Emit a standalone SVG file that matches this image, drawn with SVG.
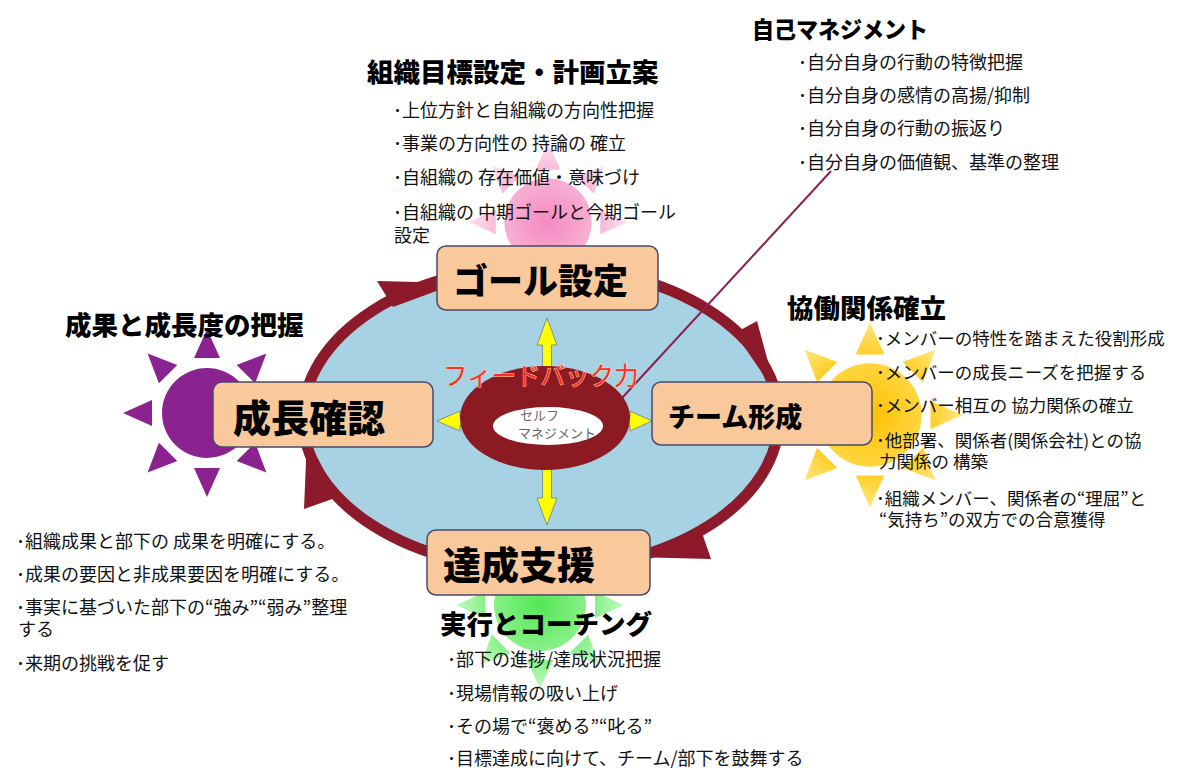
<svg xmlns="http://www.w3.org/2000/svg" width="1181" height="771" viewBox="0 0 1181 771">
<defs>
<style>
.t{font-family:"Noto Sans CJK JP","Noto Sans CJK SC",sans-serif;font-size:18px;fill:#111}
.r{font-size:17.5px}
.h{font-family:"Noto Sans CJK JP","Noto Sans CJK SC",sans-serif;font-size:26.5px;font-weight:900;fill:#000}
.box{fill:#f9c99c;stroke:#4a4a6a;stroke-width:1.5}
.bt{font-family:"Noto Sans CJK JP","Noto Sans CJK SC",sans-serif;font-weight:900;fill:#000}
.ya{fill:#ffff00;stroke:#6a7a9a;stroke-width:0.8}
.ra{fill:#8c1a2a}
</style>
<path id="rays" d="M55,-13L84,0L55,13Z M48.1,29.7L59.4,59.4L29.7,48.1Z M13,55L0,84L-13,55Z M-29.7,48.1L-59.4,59.4L-48.1,29.7Z M-55,13L-84,0L-55,-13Z M-48.1,-29.7L-59.4,-59.4L-29.7,-48.1Z M-13,-55L0,-84L13,-55Z M29.7,-48.1L59.4,-59.4L48.1,-29.7Z"/>
<radialGradient id="gPinkR"><stop offset="0.5" stop-color="#f7a6cf"/><stop offset="1" stop-color="#fde4f0"/></radialGradient>
<radialGradient id="gPinkC"><stop offset="0" stop-color="#f48ac0"/><stop offset="1" stop-color="#f7b0d4"/></radialGradient>
<radialGradient id="gYelR"><stop offset="0.5" stop-color="#ffc400"/><stop offset="1" stop-color="#ffe680"/></radialGradient>
<radialGradient id="gYelC"><stop offset="0" stop-color="#ffc000"/><stop offset="1" stop-color="#ffd640"/></radialGradient>
<radialGradient id="gGrnR"><stop offset="0.5" stop-color="#6cec6c"/><stop offset="1" stop-color="#c4fac4"/></radialGradient>
<radialGradient id="gGrnC"><stop offset="0" stop-color="#55e655"/><stop offset="1" stop-color="#88f088"/></radialGradient>
</defs>
<rect width="1181" height="771" fill="#ffffff"/>

<g id="sun-pink" transform="translate(548,222) scale(0.95)">
<use href="#rays" fill="url(#gPinkR)"/>
<circle r="46" fill="url(#gPinkC)"/>
</g>
<g id="sun-purple" transform="translate(207,413)">
<use href="#rays" fill="#8a2290"/>
<circle r="45" fill="#8a2290"/>
</g>
<g id="sun-yellow" transform="translate(870,415) scale(1.1)">
<use href="#rays" fill="url(#gYelR)"/>
<circle r="47" fill="url(#gYelC)"/>
</g>
<g id="sun-green" transform="translate(540,605)">
<use href="#rays" fill="url(#gGrnR)"/>
<circle r="46" fill="url(#gGrnC)"/>
</g>

<g id="cycle">
<ellipse cx="541" cy="418" rx="238" ry="152" fill="#a7d2e4" stroke="#8c1a2a" stroke-width="11"/>
</g>

<g id="connectors">
<polygon class="ra" points="377,281 393,307 458,283"/>
<polygon class="ra" points="757,321 735,333 777,395"/>
<polygon class="ra" points="711,559 700,527 632,557"/>
<polygon class="ra" points="304,509 338,497 307,438"/>
<polygon class="ya" points="547,318 557,345 551.5,345 551.5,498 557,498 547,525 537,498 542.5,498 542.5,345 537,345"/>
<polygon class="ya" points="437,421 460,411 460,417 630,417 630,411 652,421 630,431 630,425 460,425 460,431"/>
<line x1="622" y1="398" x2="831" y2="171" stroke="#8b2050" stroke-width="2"/>
</g>

<g id="node-self">
<ellipse cx="545" cy="418" rx="85" ry="52" fill="#8c1a22"/>
<ellipse cx="548" cy="426" rx="55" ry="19" fill="#ffffff"/>
<text class="t" style="font-size:13px;fill:#666"><tspan x="520" y="420">セルフ</tspan><tspan x="518" y="438">マネジメント</tspan></text>
</g>
<text class="t" x="443" y="385" style="font-size:24.5px;fill:#ff2a2a;stroke:#ffd9a0;stroke-width:1;paint-order:stroke">フィードバック力</text>

<g id="node-goal">
<rect class="box" x="437" y="246" width="221" height="64" rx="9"/>
<text class="bt" x="453" y="294" style="font-size:35px">ゴール設定</text>
</g>
<g id="node-growth">
<rect class="box" x="213" y="382" width="220" height="65" rx="9"/>
<text class="bt" x="233" y="432" style="font-size:38px">成長確認</text>
</g>
<g id="node-team">
<rect class="box" x="652" y="382" width="220" height="63" rx="9"/>
<text class="bt" x="668" y="427" style="font-size:27px">チーム形成</text>
</g>
<g id="node-support">
<rect class="box" x="427" y="530" width="223" height="65" rx="9"/>
<text class="bt" x="443" y="579" style="font-size:38px">達成支援</text>
</g>

<g id="note-goal">
<text class="h" x="367" y="82">組織目標設定・計画立案</text>
<text class="t" x="393" y="117">･上位方針と自組織の方向性把握</text>
<text class="t" x="393" y="150">･事業の方向性の 持論の 確立</text>
<text class="t" x="393" y="184">･自組織の 存在価値・意味づけ</text>
<text class="t"><tspan x="393" y="219">･自組織の 中期ゴールと今期ゴール</tspan><tspan x="394" y="242">設定</tspan></text>
</g>

<g id="note-self">
<text class="h" x="752" y="38" style="font-size:23px" textLength="176" lengthAdjust="spacingAndGlyphs">自己マネジメント</text>
<text class="t" x="798" y="69">･自分自身の行動の特徴把握</text>
<text class="t" x="798" y="102">･自分自身の感情の高揚/抑制</text>
<text class="t" x="798" y="135">･自分自身の行動の振返り</text>
<text class="t" x="798" y="169">･自分自身の価値観、基準の整理</text>
</g>

<g id="note-growth">
<text class="h" x="65" y="335">成果と成長度の把握</text>
<text class="t" x="16" y="548">･組織成果と部下の 成果を明確にする。</text>
<text class="t" x="16" y="581">･成果の要因と非成果要因を明確にする。</text>
<text class="t"><tspan x="16" y="614">･事実に基づいた部下の“強み”“弱み”整理</tspan><tspan x="18" y="636">する</tspan></text>
<text class="t" x="16" y="670">･来期の挑戦を促す</text>
</g>

<g id="note-team">
<text class="h" x="787" y="318">協働関係確立</text>
<text class="t r" x="876" y="345">･メンバーの特性を踏まえた役割形成</text>
<text class="t r" x="876" y="379">･メンバーの成長ニーズを把握する</text>
<text class="t r" x="876" y="412">･メンバー相互の 協力関係の確立</text>
<text class="t r"><tspan x="876" y="447">･他部署、関係者(関係会社)との協</tspan><tspan x="879" y="468">力関係の 構築</tspan></text>
<text class="t r"><tspan x="876" y="505">･組織メンバー、関係者の“理屈”と</tspan><tspan x="879" y="526">“気持ち”の双方での合意獲得</tspan></text>
</g>

<g id="note-support">
<text class="h" x="440" y="634">実行とコーチング</text>
<text class="t" x="447" y="666">･部下の進捗/達成状況把握</text>
<text class="t" x="447" y="700">･現場情報の吸い上げ</text>
<text class="t" x="447" y="733">･その場で“褒める”“叱る”</text>
<text class="t" x="447" y="765">･目標達成に向けて、チーム/部下を鼓舞する</text>
</g>
</svg>
